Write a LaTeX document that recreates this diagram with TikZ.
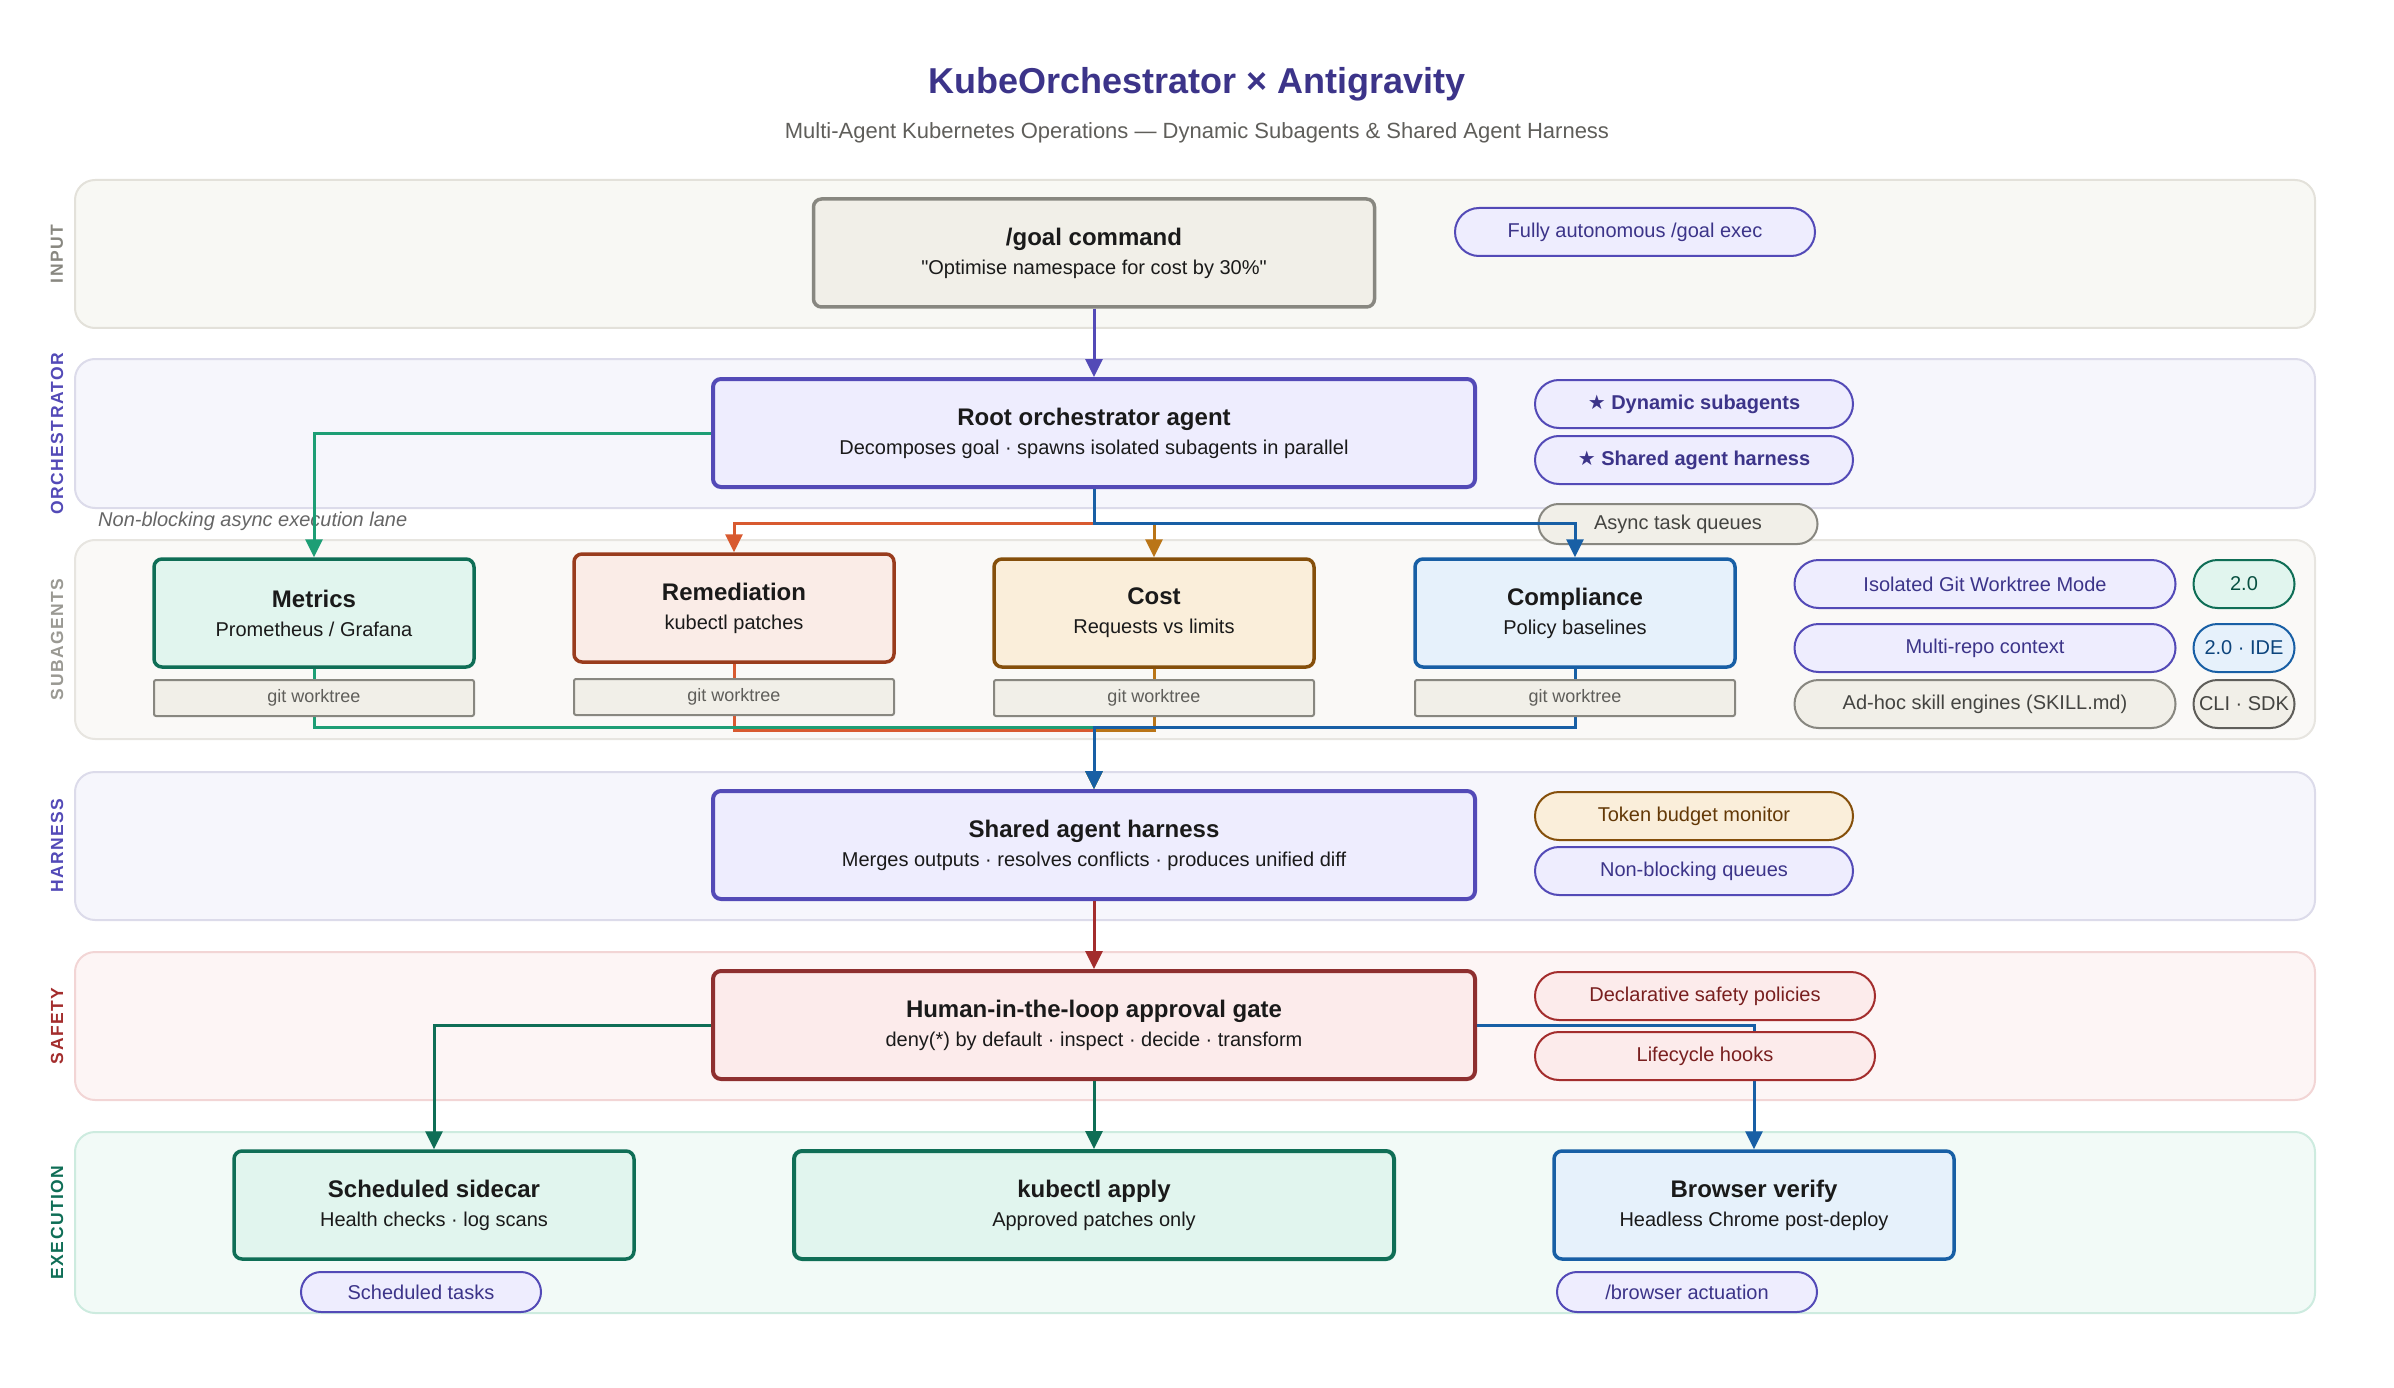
\documentclass[tikz,border=0pt]{standalone}
\usepackage{fontspec}
\setmainfont{Liberation Sans}[Ligatures=TeXOff]
\newfontfamily\symfont{DejaVu Sans}
\usepackage{tikz}
\usetikzlibrary{arrows.meta,positioning}

\definecolor{koTitle}{HTML}{3C3489}
\definecolor{koSub}{HTML}{5F5E5A}
\definecolor{koInk}{HTML}{1A1A1A}
\definecolor{koPurple}{HTML}{534AB7}
\definecolor{koPurpleBg}{HTML}{EEEDFE}
\definecolor{koGray}{HTML}{888780}
\definecolor{koGrayBg}{HTML}{F1EFE8}
\definecolor{koGrayTx}{HTML}{444441}
\definecolor{koTeal}{HTML}{0F6E56}
\definecolor{koTealBg}{HTML}{E1F5EE}
\definecolor{koTealArr}{HTML}{1D9E75}
\definecolor{koTealTx}{HTML}{085041}
\definecolor{koCoral}{HTML}{993C1D}
\definecolor{koCoralBg}{HTML}{FAECE7}
\definecolor{koCoralArr}{HTML}{D85A30}
\definecolor{koAmber}{HTML}{854F0B}
\definecolor{koAmberBg}{HTML}{FAEEDA}
\definecolor{koAmberArr}{HTML}{BA7517}
\definecolor{koAmberTx}{HTML}{633806}
\definecolor{koBlue}{HTML}{185FA5}
\definecolor{koBlueBg}{HTML}{E6F1FB}
\definecolor{koBlueTx}{HTML}{0C447C}
\definecolor{koRed}{HTML}{8E2F2F}
\definecolor{koRedArr}{HTML}{A32D2D}
\definecolor{koRedBg}{HTML}{FCEBEB}
\definecolor{koRedTx}{HTML}{791F1F}
\definecolor{laneStone}{HTML}{F8F8F4}
\definecolor{laneStoneLn}{HTML}{E3E1DA}
\definecolor{laneLilac}{HTML}{F6F6FC}
\definecolor{laneLilacLn}{HTML}{DCDBEA}
\definecolor{laneSand}{HTML}{FAF9F7}
\definecolor{laneSandLn}{HTML}{E7E5E0}
\definecolor{laneRose}{HTML}{FDF5F5}
\definecolor{laneRoseLn}{HTML}{F2D5D5}
\definecolor{laneMint}{HTML}{F2FAF7}
\definecolor{laneMintLn}{HTML}{CDEBDF}

\tikzset{
  %% Swim lanes
  koLane/.style={rounded corners=20pt, line width=2pt, minimum width=2240pt, minimum height=148pt},
  koLaneLbl/.style={rotate=90, font=\fontsize{17.5}{20}\selectfont\bfseries\addfontfeature{LetterSpace=8}},
  %% Cards
  koCard/.style={rounded corners=8pt, line width=3.5pt, minimum width=320pt, minimum height=108pt,
    align=center, text=koInk, font=\fontsize{20}{29}\selectfont},
  koTree/.style={draw=koGray, fill=koGrayBg, line width=2pt, rounded corners=2pt,
    minimum width=320pt, minimum height=36pt, text=koSub, font=\fontsize{18}{20}\selectfont},
  %% Pills
  koPill/.style={rounded corners=24pt, line width=2pt, minimum height=48pt,
    font=\fontsize{20}{24}\selectfont},
  koTag/.style={koPill, rounded corners=20pt, minimum height=40pt},
  koLilac/.style={draw=koPurple, fill=koPurpleBg, text=koTitle},
  koStone/.style={draw=koGray, fill=koGrayBg, text=koGrayTx},
  %% Connectors
  koArr/.style={-{Triangle[length=18pt,width=17pt]}, line width=3pt},
}
\newcommand{\koTtl}[1]{{\fontsize{24}{29}\selectfont\bfseries #1}}

\begin{document}
\begin{tikzpicture}[x=1pt, y=-1pt, font=\fontsize{20}{24}\selectfont]
\useasboundingbox (0,0) rectangle (2394,1388);

%% Lanes
\node[koLane, draw=laneStoneLn, fill=laneStone] (lnInput) at (1195,254) {};
\node[koLane, minimum height=149pt, draw=laneLilacLn, fill=laneLilac] (lnOrch) at (1195,433.5) {};
\node[koLane, minimum height=199pt, draw=laneSandLn, fill=laneSand] (lnSub) at (1195,639.5) {};
\node[koLane, draw=laneLilacLn, fill=laneLilac] (lnHarn) at (1195,846) {};
\node[koLane, draw=laneRoseLn, fill=laneRose] (lnSafe) at (1195,1026) {};
\node[koLane, minimum height=181pt, draw=laneMintLn, fill=laneMint] (lnExec) at (1195,1222.5) {};

\node[koLaneLbl, text=koGray]    (lbInput) at (57,254)    {INPUT};
\node[koLaneLbl, text=koPurple]  (lbOrch)  at (57,433.5)  {ORCHESTRATOR};
\node[koLaneLbl, text=koGray!85] (lbSub)   at (57,639.5)  {SUBAGENTS};
\node[koLaneLbl, text=koPurple]  (lbHarn)  at (57,846)    {HARNESS};
\node[koLaneLbl, text=koRedArr]  (lbSafe)  at (57,1026)   {SAFETY};
\node[koLaneLbl, text=koTeal]    (lbExec)  at (57,1222.5) {EXECUTION};

%% Heading
\node[font=\fontsize{36}{40}\selectfont\bfseries, text=koTitle] (title) at (1197,84) {KubeOrchestrator × Antigravity};
\node[font=\fontsize{22}{26}\selectfont, text=koSub] (subtitle) at (1197,133) {Multi-Agent Kubernetes Operations — Dynamic Subagents \& Shared Agent Harness};

%% Input + orchestrator
\node[koCard, minimum width=561pt, draw=koGray, fill=koGrayBg] (goal) at (1094,253) {\koTtl{/goal command}\\"Optimise namespace for cost by 30\%"};
\node[koPill, koLilac, minimum width=360pt] (autoPill) at (1635,232) {Fully autonomous /goal exec};
\node[koCard, minimum width=762pt, line width=4pt, draw=koPurple, fill=koPurpleBg] (root) at (1094,433) {\koTtl{Root orchestrator agent}\\Decomposes goal · spawns isolated subagents in parallel};
\node[koPill, koLilac, minimum width=318pt, font=\fontsize{20}{24}\selectfont\bfseries] (dynPill) at (1694,404) {{\symfont ★} Dynamic subagents};
\node[koPill, koLilac, minimum width=318pt, font=\fontsize{20}{24}\selectfont\bfseries] (harnPill) at (1694,460) {{\symfont ★} Shared agent harness};
\node[anchor=west, inner sep=0pt, font=\fontsize{20}{22}\selectfont\itshape, text=black!60] (asyncLane) at (98,521) {Non-blocking async execution lane};
\node[koTag, koStone, minimum width=279pt] (asyncPill) at (1678,524) {Async task queues};

%% Subagents
\node[koCard, draw=koTeal, fill=koTealBg]   (metrics) at (314,613)  {\koTtl{Metrics}\\Prometheus / Grafana};
\node[koCard, draw=koCoral, fill=koCoralBg] (remed)   at (734,608)  {\koTtl{Remediation}\\kubectl patches};
\node[koCard, draw=koAmber, fill=koAmberBg] (cost)    at (1154,613) {\koTtl{Cost}\\Requests vs limits};
\node[koCard, draw=koBlue, fill=koBlueBg]   (comply)  at (1575,613) {\koTtl{Compliance}\\Policy baselines};

\node[koPill, koLilac, minimum width=381pt] (isoPill)   at (1985,584) {Isolated Git Worktree Mode};
\node[koPill, koLilac, minimum width=381pt] (repoPill)  at (1985,648) {Multi-repo context};
\node[koPill, koStone, minimum width=381pt] (skillPill) at (1985,704) {Ad-hoc skill engines (SKILL.md)};
\node[koPill, minimum width=101pt, draw=koTeal, fill=koTealBg, text=koTealTx] (badgeA) at (2244,584) {2.0};
\node[koPill, minimum width=101pt, draw=koBlue, fill=koBlueBg, text=koBlueTx] (badgeB) at (2244,648) {2.0 · IDE};
\node[koPill, minimum width=101pt, inner sep=1pt, draw=koSub, fill=koGrayBg, text=koGrayTx] (badgeC) at (2244,704) {CLI · SDK};

%% Harness, safety, execution
\node[koCard, minimum width=762pt, line width=4pt, draw=koPurple, fill=koPurpleBg] (harness) at (1094,845) {\koTtl{Shared agent harness}\\Merges outputs · resolves conflicts · produces unified diff};
\node[koPill, minimum width=318pt, draw=koAmber, fill=koAmberBg, text=koAmberTx] (tokenPill) at (1694,816) {Token budget monitor};
\node[koPill, koLilac, minimum width=318pt] (queuePill) at (1694,871) {Non-blocking queues};
\node[koCard, minimum width=762pt, line width=4pt, draw=koRed, fill=koRedBg] (gate) at (1094,1025) {\koTtl{Human-in-the-loop approval gate}\\deny(*) by default · inspect · decide · transform};
\node[koCard, minimum width=400pt, draw=koTeal, fill=koTealBg] (sidecar) at (434,1205)  {\koTtl{Scheduled sidecar}\\Health checks · log scans};
\node[koCard, minimum width=600pt, line width=4pt, draw=koTeal, fill=koTealBg] (kubectl) at (1094,1205) {\koTtl{kubectl apply}\\Approved patches only};
\node[koCard, minimum width=400pt, draw=koBlue, fill=koBlueBg] (browser) at (1754,1205) {\koTtl{Browser verify}\\Headless Chrome post-deploy};
\node[koTag, koLilac, minimum width=240pt] (tasksPill) at (421,1292)  {Scheduled tasks};
\node[koTag, koLilac, minimum width=260pt] (actPill)   at (1687,1292) {/browser actuation};

%% Connectors
\coordinate (fanOut) at (1094,523);
\coordinate (fanInA) at (1094,727);
\coordinate (fanInB) at (1094,730);

\draw[koArr, koPurple] (goal) -- (root);
\draw[koArr, koTealArr] (root.west) -| (metrics.north);
\draw[koArr, koCoralArr] (root.south) -- (fanOut) -| (remed.north);
\draw[koArr, koAmberArr] (root.south) -- (fanOut) -| (cost.north);
\draw[koArr, koBlue] (root.south) -- (fanOut) -| (comply.north);

\draw[koArr, koAmberArr] (cost.south) |- (fanInB) -- (harness.north);
\draw[koArr, koCoralArr] (remed.south) |- (fanInB) -- (harness.north);
\draw[koArr, koTealArr] (metrics.south) |- (fanInA) -- (harness.north);
\draw[koArr, koBlue] (comply.south) |- (fanInA) -- (harness.north);

\draw[koArr, koRedArr] (harness) -- (gate);
\draw[koArr, koTeal] (gate.west) -| (sidecar.north);
\draw[koArr, koTeal] (gate) -- (kubectl);
\draw[koArr, koBlue] (gate.east) -| (browser.north);

%% Worktrees and hooks over the lines
\node[koTree] (treeMetrics) at (314,698)  {git worktree};
\node[koTree] (treeRemed)   at (734,697)  {git worktree};
\node[koTree] (treeCost)    at (1154,698) {git worktree};
\node[koTree] (treeComply)  at (1575,698) {git worktree};

\node[koPill, minimum width=340pt, draw=koRedArr, fill=koRedBg, text=koRedTx] (declPill) at (1705,996)  {Declarative safety policies};
\node[koPill, minimum width=340pt, draw=koRedArr, fill=koRedBg, text=koRedTx] (hookPill) at (1705,1056) {Lifecycle hooks};

\end{tikzpicture}
\end{document}
